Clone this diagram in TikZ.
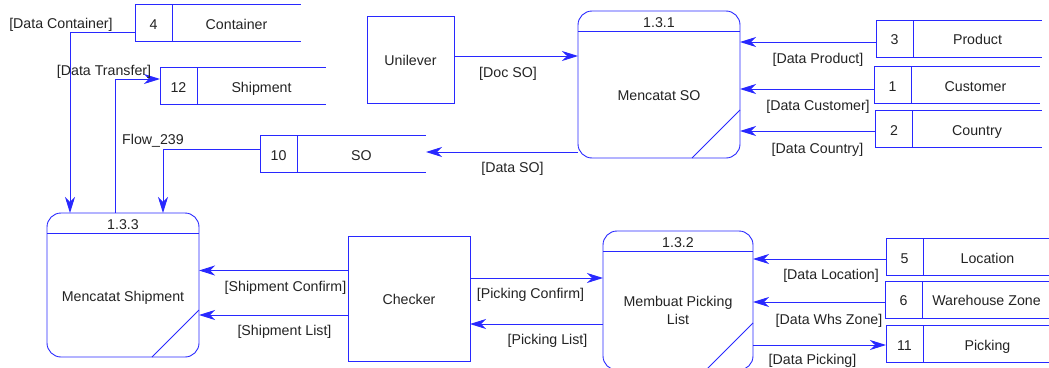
\documentclass[tikz,border=0pt]{standalone}
\usepackage{fontspec}
\setmainfont{Liberation Sans}
\usetikzlibrary{positioning, arrows.meta, calc}
\definecolor{dfdblue}{RGB}{40,40,255}
\definecolor{dfdtext}{RGB}{35,35,35}

\begin{document}
\begin{tikzpicture}[x=1pt, y=-1pt,
	every node/.style={text=dfdtext, font=\fontsize{14.2}{18}\selectfont, inner sep=0pt, outer sep=0pt,
		text height=14pt, text depth=2pt},
	line/.style={draw=dfdblue, line width=0.9pt},
	flow/.style={line, -{Stealth[length=16pt, width=10pt, inset=5pt]}},
	proc/.style={line, rounded corners=14pt},
	entity/.style={line},
	storenum/.style={line, minimum width=37pt, minimum height=37pt},
	storename/.style={minimum width=129pt, minimum height=37pt}]
	\useasboundingbox (0,0) rectangle (1049,367);

	% processes
	\node[proc, minimum width=152pt, minimum height=144pt] (p133) at (123,285) {};
	\draw[line] ([yshift=-20pt]p133.north west) -- ([yshift=-20pt]p133.north east);
	\draw[line] ([yshift=47pt]p133.south east) -- ([xshift=-47pt]p133.south east);
	\node at ([yshift=-10pt]p133.north) {1.3.3};
	\node at ([yshift=-10pt]p133.center) {Mencatat Shipment};

	\node[proc, minimum width=162pt, minimum height=147pt] (p131) at (659,84.5) {};
	\draw[line] ([yshift=-20pt]p131.north west) -- ([yshift=-20pt]p131.north east);
	\draw[line] ([yshift=48pt]p131.south east) -- ([xshift=-48pt]p131.south east);
	\node at ([yshift=-10pt]p131.north) {1.3.1};
	\node at ([yshift=-10pt]p131.center) {Mencatat SO};

	\node[proc, minimum width=150pt, minimum height=139pt] (p132) at (678,300.5) {};
	\draw[line] ([yshift=-20pt]p132.north west) -- ([yshift=-20pt]p132.north east);
	\draw[line] ([yshift=47pt]p132.south east) -- ([xshift=-47pt]p132.south east);
	\node at ([yshift=-10pt]p132.north) {1.3.2};
	\node[align=center, text height={}, text depth={}] at ([yshift=-9.5pt]p132.center) {Membuat Picking\\List};

	% external entities
	\node[entity, minimum width=87pt, minimum height=87pt] (unilever) at (410.5,59.5) {Unilever};
	\node[entity, minimum width=122pt, minimum height=125pt] (checker) at (409,298.5) {Checker};

	% data stores
	\node[storenum] (st4) at (153.5,23) {4};
	\node[storename, right=0pt of st4] (st4n) {Container};
	\draw[line] (st4.north east) -- (st4n.north east) (st4.south east) -- (st4n.south east);

	\node[storenum] (st12) at (178.5,86) {12};
	\node[storename, right=0pt of st12] (st12n) {Shipment};
	\draw[line] (st12.north east) -- (st12n.north east) (st12.south east) -- (st12n.south east);

	\node[storenum] (st10) at (278.5,154) {10};
	\node[storename, right=0pt of st10] (st10n) {SO};
	\draw[line] (st10.north east) -- (st10n.north east) (st10.south east) -- (st10n.south east);

	\node[storenum] (st3) at (894.5,38.5) {3};
	\node[storename, right=0pt of st3] (st3n) {Product};
	\draw[line] (st3.north east) -- (st3n.north east) (st3.south east) -- (st3n.south east);

	\node[storenum] (st1) at (892.5,85) {1};
	\node[storename, right=0pt of st1] (st1n) {Customer};
	\draw[line] (st1.north east) -- (st1n.north east) (st1.south east) -- (st1n.south east);

	\node[storenum] (st2) at (894,129) {2};
	\node[storename, right=0pt of st2] (st2n) {Country};
	\draw[line] (st2.north east) -- (st2n.north east) (st2.south east) -- (st2n.south east);

	\node[storenum] (st5) at (904.5,257) {5};
	\node[storename, right=0pt of st5] (st5n) {Location};
	\draw[line] (st5.north east) -- (st5n.north east) (st5.south east) -- (st5n.south east);

	\node[storenum] (st6) at (903.5,299.5) {6};
	\node[storename, right=0pt of st6] (st6n) {Warehouse Zone};
	\draw[line] (st6.north east) -- (st6n.north east) (st6.south east) -- (st6n.south east);

	\node[storenum] (st11) at (904.5,344) {11};
	\node[storename, right=0pt of st11] (st11n) {Picking};
	\draw[line] (st11.north east) -- (st11n.north east) (st11.south east) -- (st11n.south east);

	% flows round 1.3.3
	\draw[flow] ([yshift=-9pt]st4.west) -| ([xshift=23pt]p133.north west);
	\draw[flow] ([xshift=68pt]p133.north west) |- ([yshift=7pt]st12.west);
	\draw[flow] ([yshift=5pt]st10.west) -| ([xshift=116pt]p133.north west);

	\coordinate (shconf) at ([yshift=28pt]checker.west);
	\coordinate (shlist) at ([yshift=-16.5pt]checker.west);
	\draw[flow] (shconf) -- (shconf -| p133.east);
	\draw[flow] (shlist) -- (shlist -| p133.east);

	% flows round 1.3.1
	\coordinate (docso) at ([yshift=3.5pt]unilever.east);
	\coordinate (dataso) at ([yshift=2pt]st10n.east);
	\coordinate (dprod) at ([yshift=-3.5pt]st3.west);
	\coordinate (dcust) at ([yshift=-4pt]st1.west);
	\coordinate (dcountry) at ([yshift=-2pt]st2.west);
	\draw[flow] (docso) -- (docso -| p131.west);
	\draw[flow] (dataso -| p131.west) -- (dataso);
	\draw[flow] (dprod) -- (dprod -| p131.east);
	\draw[flow] (dcust) -- (dcust -| p131.east);
	\draw[flow] (dcountry) -- (dcountry -| p131.east);

	% flows round 1.3.2
	\coordinate (pkconf) at ([yshift=20.5pt]checker.east);
	\coordinate (pklist) at ([yshift=-25.5pt]checker.east);
	\coordinate (dloc) at ([yshift=-2pt]st5.west);
	\coordinate (dwhs) at ([yshift=-2.5pt]st6.west);
	\coordinate (dpick) at ([yshift=-1pt]st11.west);
	\draw[flow] (pkconf) -- (pkconf -| p132.west);
	\draw[flow] (pklist -| p132.west) -- (pklist);
	\draw[flow] (dloc) -- (dloc -| p132.east);
	\draw[flow] (dwhs) -- (dwhs -| p132.east);
	\draw[flow] (dpick -| p132.east) -- (dpick);

	% flow labels
	\node (lcont) at (61,22) {[Data Container]};
	\node (ltrans) at (104,69) {[Data Transfer]};
	\node (lflow) at (153,138) {Flow\_239};
	\node (lshconf) at (285.5,285) {[Shipment Confirm]};
	\node (lshlist) at (284.5,329) {[Shipment List]};
	\node (ldocso) at (508,71) {[Doc SO]};
	\node (ldataso) at (512.5,166) {[Data SO]};
	\node (lprod) at (818,57) {[Data Product]};
	\node (lcust) at (818,104) {[Data Customer]};
	\node (lcountry) at (817.5,147) {[Data Country]};
	\node (lpkconf) at (530.5,292) {[Picking Confirm]};
	\node (lpklist) at (547.5,338) {[Picking List]};
	\node (lloc) at (831,273) {[Data Location]};
	\node (lwhs) at (829,318) {[Data Whs Zone]};
	\node (lpick) at (812.5,358) {[Data Picking]};
\end{tikzpicture}
\end{document}
